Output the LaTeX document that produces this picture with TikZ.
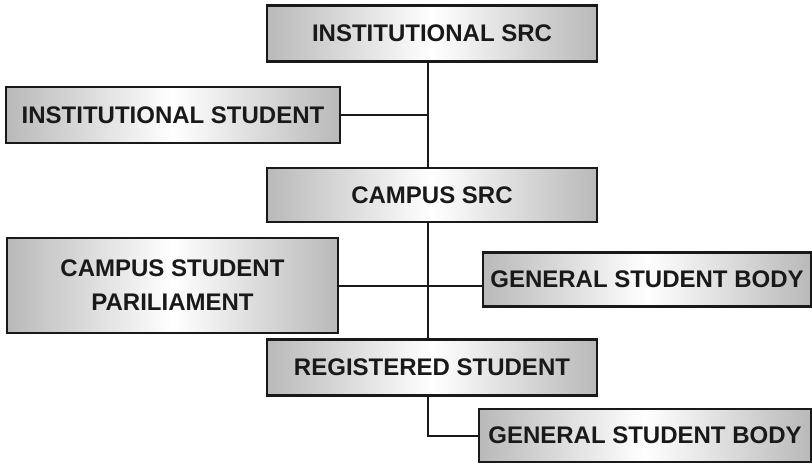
\documentclass[tikz,border=0pt]{standalone}
\usepackage{fontspec}
\setmainfont{Liberation Sans}
\usetikzlibrary{positioning}

\tikzset{
		basic/.style  = {draw=black!90, line width=1.3pt, rectangle, align=center, inner sep=2pt,
			left color=gray!55, right color=gray!55, middle color=white,
			font=\fontsize{12}{17}\selectfont\bfseries, text=black!90},
		wide/.style   = {basic, minimum width=165pt, minimum height=28pt},
		side/.style   = {basic, minimum width=164pt, minimum height=27pt},
		link/.style   = {line width=1pt, black!90}
	}

\begin{document}
\begin{tikzpicture}[x=0.5pt, y=-0.5pt]
		\useasboundingbox (0,0) rectangle (812,463);
		
		% main column of the structure
		\node[wide] (isrc) at (432,33.5) {INSTITUTIONAL SRC};
		\node[wide, minimum height=27pt] (csrc) at (432,195) {CAMPUS SRC};
		\node[wide] (reg) at (432,367.5) {REGISTERED STUDENT};
		
		% boxes hanging off the column
		\node[basic, minimum width=167pt, minimum height=28pt] (istud) at (173,115) {INSTITUTIONAL STUDENT};
		\node[basic, minimum width=165.5pt, minimum height=47.5pt] (cparl) at (172.5,285.5) {CAMPUS STUDENT\\PARILIAMENT};
		\node[side] (gmid) at (647,279.5) {GENERAL STUDENT BODY};
		\node[side, minimum width=166pt, minimum height=26.5pt] (gbot) at (645,435.5) {GENERAL STUDENT BODY};
		
		% the trunk line
		\coordinate (trunk) at (428,0);
		\draw[link] (isrc.south -| trunk) -- (csrc.north -| trunk);
		\draw[link] (csrc.south -| trunk) -- (reg.north -| trunk);
		
		% branches
		\draw[link] (istud.east) -- (istud.east -| trunk);
		\draw[link] (cparl.east) -- (cparl.east -| gmid.west);
		\draw[link] (reg.south -| trunk) |- (gbot.west);
		
	\end{tikzpicture}
\end{document}
